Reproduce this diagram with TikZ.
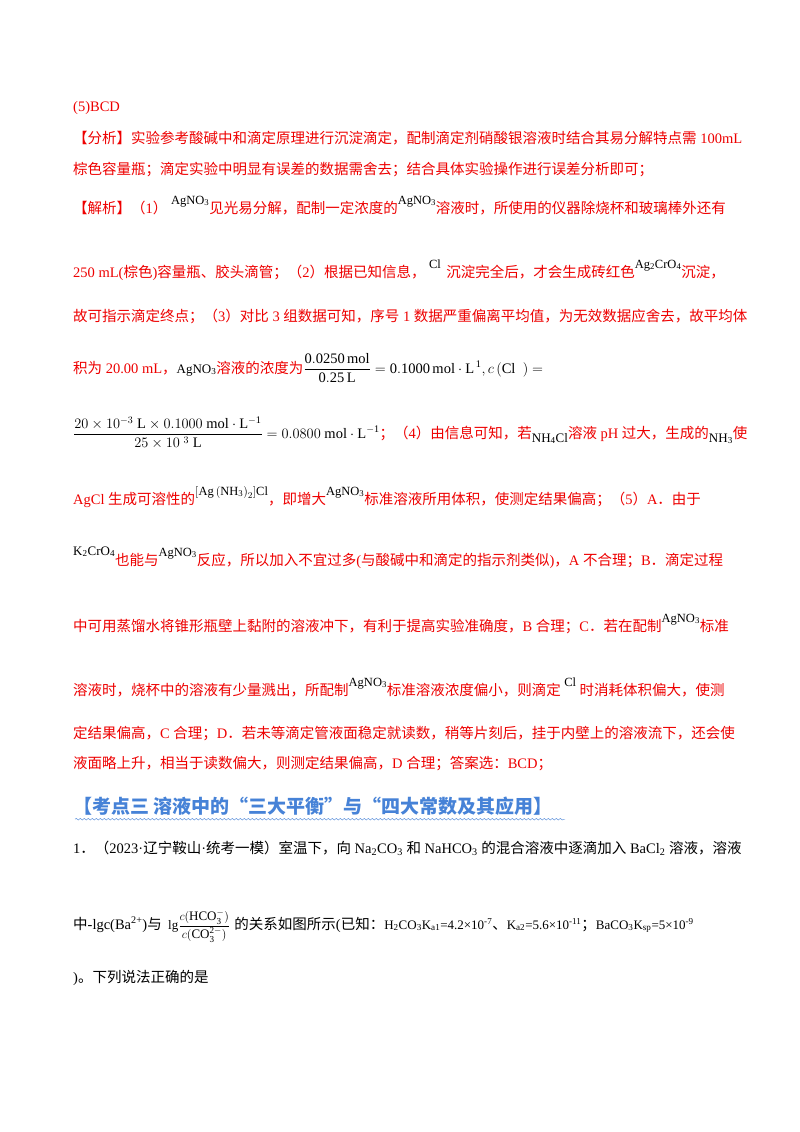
\documentclass[tikz,border=0pt]{standalone}
\usepackage{amsmath}
\usepackage{fontspec}
\usetikzlibrary{decorations.pathmorphing}
\setmainfont{Liberation Serif}
\newfontfamily\cjk{Noto Sans CJK SC}
\XeTeXinterchartokenstate=1
\newXeTeXintercharclass\CJKcls
\def\setcls#1#2{\count255=#1\relax\loop\XeTeXcharclass\count255=\CJKcls\ifnum\count255<#2\relax\advance\count255 1\repeat}
\setcls{"3000}{"303F}
\setcls{"4E00}{"9FFF}
\setcls{"FF00}{"FFEF}
\setcls{"201C}{"201D}
\XeTeXinterchartoks 0 \CJKcls = {\begingroup\cjk}
\XeTeXinterchartoks 4095 \CJKcls = {\begingroup\cjk}
\XeTeXinterchartoks \CJKcls 0 = {\endgroup}
\XeTeXinterchartoks \CJKcls 4095 = {\endgroup}
\definecolor{ansred}{RGB}{238,0,0}
\definecolor{headblue}{RGB}{70,130,215}
\newcommand\bk[1]{\textcolor{black}{#1}}
\newcommand\sbs[1]{\textsubscript{#1}}
\newcommand\sps[1]{\textsuperscript{#1}}
\newcommand\up[1]{\raisebox{9pt}{\fontsize{12.5}{14}\selectfont\bk{#1}}}
\newcommand\chem[1]{{\fontsize{13}{14}\selectfont\bk{#1}}}
\tikzset{ln/.style={anchor=base west,inner sep=0pt,font=\fontsize{14.5}{17}\selectfont,text=ansred},
 blk/.style={ln,text=black}}
\begin{document}
\begin{tikzpicture}[x=1pt,y=-1pt]
\useasboundingbox[fill=white] (0,0) rectangle (800,1132);
\node[ln] (l1) at (73,111) {(5)BCD};
\node[ln] (l2) at (73,143) {【分析】实验参考酸碱中和滴定原理进行沉淀滴定，配制滴定剂硝酸银溶液时结合其易分解特点需 100mL};
\node[ln] (l3) at (73,174) {棕色容量瓶；滴定实验中明显有误差的数据需舍去；结合具体实验操作进行误差分析即可；};
\node[ln] (l4) at (73,213) {【解析】（1） \up{AgNO\sbs{3}}见光易分解，配制一定浓度的\up{AgNO\sbs{3}}溶液时，所使用的仪器除烧杯和玻璃棒外还有};
\node[ln] (l5) at (73,277) {250 mL(棕色)容量瓶、胶头滴管；（2）根据已知信息，\up{\;Cl\sps{\,}\;}沉淀完全后，才会生成砖红色\up{Ag\sbs{2}CrO\sbs{4}}沉淀，};
\node[ln] (l6) at (73,321) {故可指示滴定终点；（3）对比 3 组数据可知，序号 1 数据严重偏离平均值，为无效数据应舍去，故平均体};
\node[ln] (l7) at (73,373) {积为 20.00 mL，\chem{ AgNO\sbs{3}}溶液的浓度为\bk{$\dfrac{\mathrm{0.0250\,mol}}{\mathrm{0.25\,L}}=\mathrm{0.1000\,mol\cdot L^{\,1}},c\left(\mathrm{Cl}\ \ \right)=$}};
\node[ln] (l8) at (73,438) {\bk{$\dfrac{20\times10^{-3}\ \mathrm{L}\times0.1000\ \mathrm{mol\cdot L^{-1}}}{25\times10^{\ 3}\ \mathrm{L}}=0.0800\ \mathrm{mol\cdot L^{-1}}$}；（4）由信息可知，若\chem{\raisebox{-4pt}{NH\sbs{4}Cl}}溶液 pH 过大，生成的\chem{\raisebox{-4pt}{NH\sbs{3}}}使};
\node[ln] (l9) at (73,504) {AgCl 生成可溶性的\up{$\left[\mathrm{Ag}\left(\mathrm{NH_3}\right)_2\right]$Cl}，即增大\up{AgNO\sbs{3}}标准溶液所用体积，使测定结果偏高；（5）A．由于};
\node[ln] (l10) at (73,565) {\chem{\raisebox{10pt}{K\sbs{2}CrO\sbs{4}}}也能与\up{AgNO\sbs{3}}反应，所以加入不宜过多(与酸碱中和滴定的指示剂类似)，A 不合理；B．滴定过程};
\node[ln] (l11) at (73,631) {中可用蒸馏水将锥形瓶壁上黏附的溶液冲下，有利于提高实验准确度，B 合理；C．若在配制\up{AgNO\sbs{3}}标准};
\node[ln] (l12) at (73,695) {溶液时，烧杯中的溶液有少量溅出，所配制\up{AgNO\sbs{3}}标准溶液浓度偏小，则滴定\up{\;Cl\;}时消耗体积偏大，使测};
\node[ln] (l13) at (73,738) {定结果偏高，C 合理；D．若未等滴定管液面稳定就读数，稍等片刻后，挂于内壁上的溶液流下，还会使};
\node[ln] (l14) at (73,768) {液面略上升，相当于读数偏大，则测定结果偏高，D 合理；答案选：BCD；};
\node[ln,text=headblue,font=\fontsize{19}{22}\selectfont\bfseries] (hd) at (73,813) {【考点三 溶液中的“三大平衡”与“四大常数及其应用】};
\draw[headblue,decorate,decoration={snake,amplitude=0.8pt,segment length=4pt}] (hd.south west) ++(2,4) -- ++(490,0);
\node[blk] (q1) at (73,853) {1．（2023·辽宁鞍山·统考一模）室温下，向 Na\sbs{2}CO\sbs{3} 和 NaHCO\sbs{3} 的混合溶液中逐滴加入 BaCl\sbs{2} 溶液，溶液};
\node[blk] (q2) at (73,929) {中-lgc(Ba\sps{2+})与};
\node[blk] (q2f) at ([xshift=6pt]q2.base east) {\chem{$\mathrm{lg}\dfrac{c(\mathrm{HCO_3^-})}{c(\mathrm{CO_3^{2-}})}$}};
\node[blk] (q2r) at ([xshift=4pt]q2f.base east) {的关系如图所示(已知：\chem{H\sbs{2}CO\sbs{3}K\sbs{a1}=4.2×10\sps{-7}}、\chem{K\sbs{a2}=5.6×10\sps{-11}}；\chem{BaCO\sbs{3}K\sbs{sp}=5×10\sps{-9}}};
\node[blk] (q3) at (73,982) {)。下列说法正确的是};
\end{tikzpicture}
\end{document}
